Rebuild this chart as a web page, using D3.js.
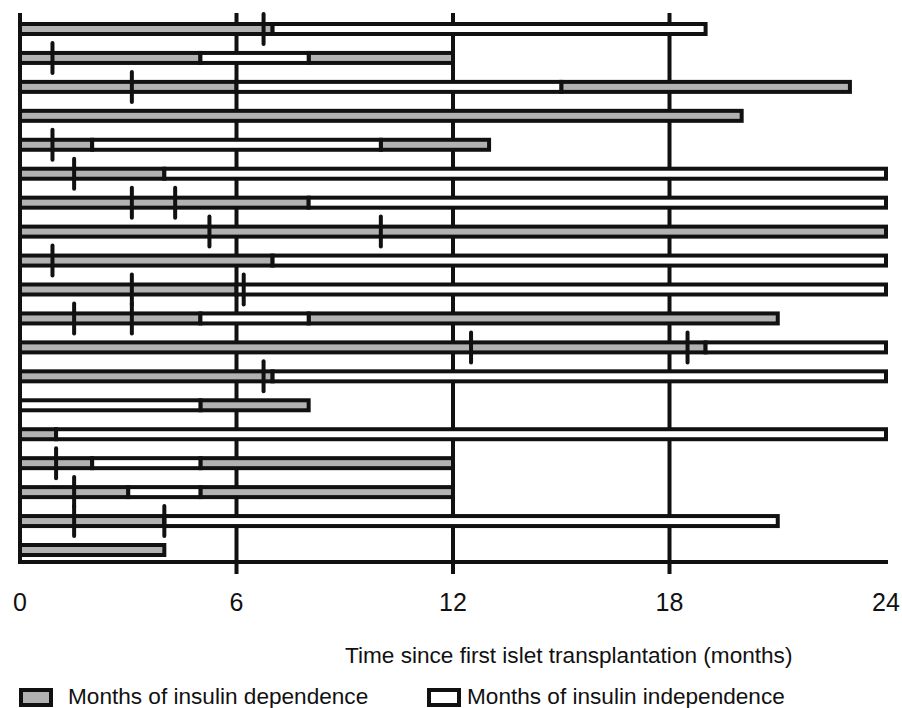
<!DOCTYPE html>
<meta charset="utf-8">
<style>
 body { margin: 0; background: #fff; }
 text { font-family: "Liberation Sans", Arial, sans-serif; fill: #111; }
 .grid line, .frame { stroke: #111; stroke-width: 4px; }
 .seg { stroke: #111; stroke-width: 4px; }
 .seg.dep { fill: #b2b2b2; }
 .seg.ind { fill: #fff; }
 .tx { stroke: #111; stroke-width: 4px; stroke-linecap: round; }
</style>
<svg id="chart" width="902" height="708"></svg>
<script src="https://cdn.jsdelivr.net/npm/d3@7"></script>
<script>

 // one entry per patient, top to bottom (months since first transplant)
 var dependence = [
     [[0, 7]],
     [[0, 5], [8, 12]],
     [[0, 6], [15, 23]],
     [[0, 20]],
     [[0, 2], [10, 13]],
     [[0, 4]],
     [[0, 8]],
     [[0, 24]],
     [[0, 7]],
     [[0, 6]],
     [[0, 5], [8, 21]],
     [[0, 19]],
     [[0, 7]],
     [[5, 8]],
     [[0, 1]],
     [[0, 2], [5, 12]],
     [[0, 3], [5, 12]],
     [[0, 4]],
     [[0, 4]]
 ];
 var independence = [
     [[7, 19]],
     [[5, 8]],
     [[6, 15]],
     [],
     [[2, 10]],
     [[4, 24]],
     [[8, 24]],
     [],
     [[7, 24]],
     [[6, 24]],
     [[5, 8]],
     [[19, 24]],
     [[7, 24]],
     [[0, 5]],
     [[1, 24]],
     [[2, 5]],
     [[3, 5]],
     [[4, 21]],
     []
 ];
 // later islet infusions
 var transplants = [
     [6.75], [0.9], [3.1], [], [0.9], [1.5], [3.1, 4.3], [5.25, 10],
     [0.9], [3.1, 6.2], [1.5, 3.1], [12.5, 18.5], [6.75], [], [],
     [1.0], [1.5], [1.5, 4.0], []
 ];
 var xTicks = [0, 6, 12, 18, 24];
 var gridAt = [6, 12, 18];

 var svg = d3.select("#chart");

 var x = d3.scaleLinear().domain([0, 24]).range([20, 886]);
 var y = d3.scalePoint().domain(d3.range(dependence.length)).range([29, 550]);

 var plotTop = 13, plotBase = 562, barh = 10, txh = 15;

 // vertical guides, drawn first so bars sit over them
 svg.append("g").attr("class", "grid").selectAll("line").data(gridAt).enter()
    .append("line")
    .attr("x1", function(d) { return x(d); }).attr("x2", function(d) { return x(d); })
    .attr("y1", plotTop).attr("y2", plotBase + 12);

 var segs = [];
 dependence.forEach(function(row, i) {
     row.forEach(function(s) { segs.push({row: i, a: s[0], b: s[1], type: "dep"}); });
 });
 independence.forEach(function(row, i) {
     row.forEach(function(s) { segs.push({row: i, a: s[0], b: s[1], type: "ind"}); });
 });

 svg.append("g").selectAll("rect").data(segs).enter()
    .append("rect")
    .attr("class", function(d) { return "seg " + d.type; })
    .attr("x", function(d) { return x(d.a); })
    .attr("width", function(d) { return x(d.b) - x(d.a); })
    .attr("y", function(d) { return y(d.row) - barh / 2; })
    .attr("height", barh);

 var marks = [];
 transplants.forEach(function(row, i) {
     row.forEach(function(t) { marks.push({row: i, t: t}); });
 });

 svg.append("g").selectAll("line").data(marks).enter()
    .append("line").attr("class", "tx")
    .attr("x1", function(d) { return x(d.t); }).attr("x2", function(d) { return x(d.t); })
    .attr("y1", function(d) { return y(d.row) - txh; })
    .attr("y2", function(d) { return y(d.row) + txh; });

 // frame: left and bottom axis lines
 svg.append("path").attr("class", "frame").attr("fill", "none")
    .attr("d", "M" + x(0) + "," + plotTop + "V" + plotBase + "H" + (x(24) + 2));

 svg.append("g").selectAll("text").data(xTicks).enter()
    .append("text")
    .attr("x", function(d) { return x(d); })
    .attr("y", 611)
    .attr("text-anchor", "middle")
    .style("font-size", "25px")
    .text(function(d) { return d; });

 svg.append("text").attr("x", 345).attr("y", 663)
    .style("font-size", "22.6px")
    .text("Time since first islet transplantation (months)");

 var legend = [
     {label: "Months of insulin dependence", type: "dep", bx: 21, tx: 68},
     {label: "Months of insulin independence", type: "ind", bx: 429, tx: 467}
 ];
 var lg = svg.append("g").selectAll("g").data(legend).enter().append("g");
 lg.append("rect")
   .attr("class", function(d) { return "seg " + d.type; })
   .attr("x", function(d) { return d.bx; }).attr("y", 690)
   .attr("width", 30).attr("height", 15);
 lg.append("text")
   .attr("x", function(d) { return d.tx; }).attr("y", 704)
   .style("font-size", "22.6px")
   .text(function(d) { return d.label; });

</script>
